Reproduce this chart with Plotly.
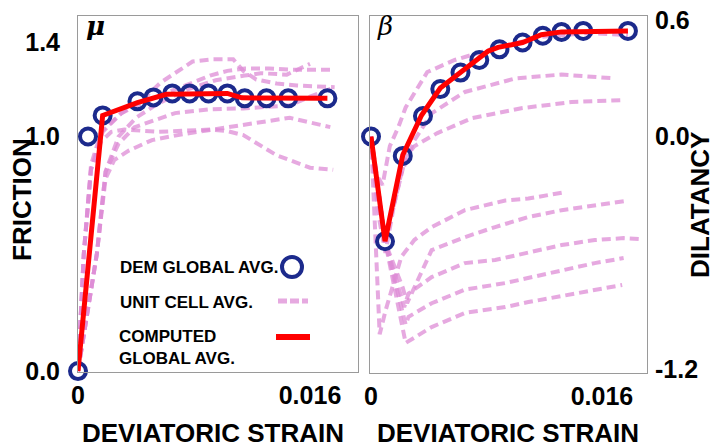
import plotly.graph_objects as go

# ---------------- data ----------------
# Friction (mu) vs deviatoric strain
dem_mu_x = [0.0, 0.00069, 0.0017, 0.0041, 0.0052, 0.0065, 0.0077, 0.0090, 0.0103, 0.0115, 0.0130, 0.0145, 0.0172]
dem_mu_y = [0.0, 1.00, 1.09, 1.15, 1.167, 1.184, 1.184, 1.184, 1.184, 1.163, 1.163, 1.163, 1.163]

comp_mu_x = [0.0, 0.0017, 0.0041, 0.0061, 0.0103, 0.0113, 0.0172]
comp_mu_y = [0.0, 1.09, 1.145, 1.18, 1.184, 1.165, 1.163]

cell_mu = [
    ([0, 0.0004, 0.0009, 0.0016, 0.003, 0.0045, 0.0057, 0.0079, 0.0093, 0.0107, 0.0114, 0.0123, 0.0137, 0.0151, 0.0177],
     [0, 0.5, 0.88, 1.02, 1.1, 1.16, 1.23, 1.32, 1.33, 1.33, 1.28, 1.243, 1.226, 1.218, 1.21]),
    ([0, 0.0004, 0.0009, 0.0017, 0.003, 0.005, 0.0075, 0.0091, 0.0103, 0.0115, 0.0132, 0.0148, 0.0177],
     [0, 0.5, 0.86, 1.02, 1.1, 1.16, 1.22, 1.26, 1.28, 1.29, 1.29, 1.285, 1.285]),
    ([0, 0.0013, 0.0019, 0.0028, 0.004, 0.0055, 0.0075, 0.0095, 0.0115, 0.0126, 0.0144, 0.016],
     [0, 0.5, 0.85, 1.0, 1.08, 1.14, 1.2, 1.24, 1.26, 1.27, 1.264, 1.31]),
    ([0, 0.0013, 0.0019, 0.0028, 0.0039, 0.0067, 0.0091, 0.0114, 0.0146, 0.016, 0.0177],
     [0, 0.5, 0.85, 0.97, 1.04, 1.1, 1.116, 1.12, 1.133, 1.17, 1.21]),
    ([0, 0.0013, 0.0019, 0.0025, 0.0035, 0.0051, 0.0072, 0.0091, 0.0114, 0.0146, 0.0174],
     [0, 0.5, 0.82, 0.9, 0.94, 0.985, 1.01, 1.027, 1.05, 1.08, 1.04]),
    ([0, 0.0004, 0.0009, 0.0016, 0.0023, 0.0032, 0.0055, 0.0079, 0.0092, 0.0103, 0.0114, 0.0137, 0.016, 0.0176],
     [0, 0.5, 0.86, 0.98, 1.02, 1.03, 1.02, 1.027, 1.03, 1.023, 1.006, 0.92, 0.867, 0.858]),
]

# Dilatancy (beta) vs deviatoric strain
dem_beta_x = [0.0, 0.00097, 0.0022, 0.0036, 0.0048, 0.0062, 0.0075, 0.0089, 0.0105, 0.0119, 0.0132, 0.0147, 0.0178]
dem_beta_y = [0.0, -0.54, -0.10, 0.106, 0.245, 0.33, 0.395, 0.45, 0.485, 0.52, 0.54, 0.545, 0.545]

comp_beta_x = [0.0, 0.00097, 0.0022, 0.0035, 0.0048, 0.0060, 0.0081, 0.0088, 0.0105, 0.0118, 0.0132, 0.0178]
comp_beta_y = [0.0, -0.54, -0.095, 0.11, 0.25, 0.32, 0.44, 0.46, 0.485, 0.525, 0.54, 0.545]

cell_beta = [
    ([0, 0.0004, 0.0008, 0.0013, 0.0019, 0.0024, 0.0039, 0.0058, 0.0086, 0.0118, 0.015, 0.0178],
     [0, -0.2, -0.25, -0.05, 0.05, 0.15, 0.333, 0.395, 0.457, 0.514, 0.534, 0.524]),
    ([0, 0.0005, 0.001, 0.0016, 0.0021, 0.003, 0.0042, 0.0065, 0.01, 0.0132, 0.0169],
     [0, -0.35, -0.5, -0.35, -0.19, -0.02, 0.12, 0.23, 0.30, 0.32, 0.30]),
    ([0, 0.0005, 0.001, 0.0016, 0.0024, 0.003, 0.0046, 0.007, 0.0105, 0.0139, 0.0174],
     [0, -0.4, -0.6, -0.35, -0.106, -0.05, 0.018, 0.095, 0.147, 0.178, 0.188]),
    ([0, 0.0006, 0.001, 0.0021, 0.003, 0.0042, 0.0065, 0.0093, 0.0109, 0.0134],
     [0, -1.02, -0.9, -0.62, -0.534, -0.467, -0.38, -0.33, -0.32, -0.287]),
    ([0, 0.001, 0.0022, 0.0025, 0.0042, 0.0065, 0.0086, 0.0109, 0.0132, 0.0155, 0.0176],
     [0, -0.55, -0.78, -0.86, -0.586, -0.519, -0.467, -0.415, -0.38, -0.354, -0.333]),
    ([0, 0.001, 0.0023, 0.0026, 0.0042, 0.0065, 0.0086, 0.0109, 0.0132, 0.0155, 0.0175, 0.0188],
     [0, -0.55, -0.88, -0.81, -0.725, -0.653, -0.637, -0.596, -0.56, -0.534, -0.524, -0.53]),
    ([0, 0.001, 0.0024, 0.0026, 0.0042, 0.0065, 0.0093, 0.0109, 0.0132, 0.0155, 0.0175],
     [0, -0.55, -0.97, -0.93, -0.86, -0.79, -0.756, -0.73, -0.69, -0.653, -0.627]),
    ([0, 0.001, 0.0024, 0.0042, 0.0065, 0.0093, 0.0109, 0.0132, 0.0155, 0.0174],
     [0, -0.55, -1.065, -0.983, -0.91, -0.88, -0.854, -0.823, -0.792, -0.766]),
]

x_ticks = [0, 0.016]
x_ticklabels = ["0", "0.016"]
mu_ticks = [0.0, 1.0, 1.4]
mu_ticklabels = ["0.0", "1.0", "1.4"]
beta_ticks = [-1.2, 0.0, 0.6]
beta_ticklabels = ["-1.2", "0.0", "0.6"]

legend_labels = ["DEM GLOBAL AVG.", "UNIT CELL AVG.", "COMPUTED<br>GLOBAL AVG."]

# ---------------- styles ----------------
W, H = 715, 448
NAVY = "#1c2a8c"
PINK = "rgba(221,140,213,0.75)"
RED = "#ff0000"
FONT = "Liberation Sans, Arial, Helvetica, sans-serif"


def px_x(p):
    return p / W


def px_y(p):
    return 1 - p / H


fig = go.Figure()

# unit cell averages (dashed)
for xs, ys in cell_mu:
    fig.add_trace(go.Scatter(x=xs, y=ys, mode="lines", xaxis="x", yaxis="y",
                             line=dict(color=PINK, width=4, dash="9px,5px"),
                             showlegend=False, hoverinfo="skip"))
for xs, ys in cell_beta:
    fig.add_trace(go.Scatter(x=xs, y=ys, mode="lines", xaxis="x2", yaxis="y2",
                             line=dict(color=PINK, width=4, dash="9px,5px"),
                             showlegend=False, hoverinfo="skip"))

# DEM global averages (open circles)
marker = dict(symbol="circle-open", size=16, color=NAVY, line=dict(color=NAVY, width=4))
fig.add_trace(go.Scatter(x=dem_mu_x, y=dem_mu_y, mode="markers", xaxis="x", yaxis="y",
                         marker=marker, showlegend=False, cliponaxis=False))
fig.add_trace(go.Scatter(x=dem_beta_x, y=dem_beta_y, mode="markers", xaxis="x2", yaxis="y2",
                         marker=marker, showlegend=False, cliponaxis=False))

# computed global averages (red)
fig.add_trace(go.Scatter(x=comp_mu_x, y=comp_mu_y, mode="lines", xaxis="x", yaxis="y",
                         line=dict(color=RED, width=5), showlegend=False, cliponaxis=False))
fig.add_trace(go.Scatter(x=comp_beta_x, y=comp_beta_y, mode="lines", xaxis="x2", yaxis="y2",
                         line=dict(color=RED, width=5), showlegend=False, cliponaxis=False))

tickfont = dict(family=FONT, size=25, color="black", weight="bold")
frame = dict(showline=True, linecolor="#9a9a9a", linewidth=1, mirror=True,
             showgrid=False, zeroline=False, ticks="", tickfont=tickfont,
             automargin=False)

fig.update_layout(
    width=W, height=H,
    margin=dict(l=0, r=0, t=0, b=0, autoexpand=False),
    paper_bgcolor="white", plot_bgcolor="white",
    xaxis=dict(domain=[px_x(78), px_x(358)], range=[0, 0.01931],
               tickvals=x_ticks, ticktext=x_ticklabels, anchor="y",
               ticklabelstandoff=1, **frame),
    yaxis=dict(domain=[px_y(372), px_y(16)], range=[-0.004, 1.514],
               tickvals=mu_ticks, ticktext=mu_ticklabels, anchor="x",
               ticklabelstandoff=12, **frame),
    xaxis2=dict(domain=[px_x(370), px_x(647)], range=[-0.00007, 0.01912],
                tickvals=x_ticks, ticktext=x_ticklabels, anchor="y2",
                ticklabelstandoff=1, **frame),
    yaxis2=dict(domain=[px_y(373), px_y(16)], range=[-1.22, 0.622],
                tickvals=beta_ticks, ticktext=beta_ticklabels, anchor="x2",
                side="right", ticklabelstandoff=2, **frame),
)

title_font = dict(family=FONT, size=26, color="black", weight="bold")
legend_font = dict(family=FONT, size=17, color="black", weight="bold")

annotations = [
    dict(text="DEVIATORIC STRAIN", x=px_x(213), y=px_y(433), font=title_font),
    dict(text="DEVIATORIC STRAIN", x=px_x(508), y=px_y(433), font=title_font),
    dict(text="FRICTION", x=px_x(22), y=px_y(200), textangle=-90, font=title_font),
    dict(text="DILATANCY", x=px_x(700), y=px_y(205), textangle=-90, font=title_font),
    dict(text="μ", x=px_x(95), y=px_y(26),
         font=dict(family="DejaVu Serif", size=26, color="black", style="italic", weight="bold")),
    dict(text="β", x=px_x(385), y=px_y(26),
         font=dict(family="DejaVu Serif", size=26, color="black", style="italic")),
    dict(text=legend_labels[0], x=px_x(118), y=px_y(267), xanchor="left", font=legend_font),
    dict(text=legend_labels[1], x=px_x(118), y=px_y(302), xanchor="left", font=legend_font),
    dict(text=legend_labels[2], x=px_x(117), y=px_y(347), xanchor="left", align="left",
         font=legend_font),
]
for a in annotations:
    a.setdefault("xanchor", "center")
    a.update(xref="paper", yref="paper", yanchor="middle", showarrow=False)
fig.update_layout(annotations=annotations)

# legend glyphs
fig.update_layout(shapes=[
    dict(type="circle", xref="paper", yref="paper",
         x0=px_x(282), x1=px_x(302), y0=px_y(277), y1=px_y(257),
         line=dict(color=NAVY, width=4)),
    dict(type="line", xref="paper", yref="paper",
         x0=px_x(278), x1=px_x(308), y0=px_y(301), y1=px_y(301),
         line=dict(color=PINK, width=5, dash="9px,3px")),
    dict(type="line", xref="paper", yref="paper",
         x0=px_x(276), x1=px_x(310), y0=px_y(337), y1=px_y(337),
         line=dict(color=RED, width=6)),
])

fig.write_html("out.html")
